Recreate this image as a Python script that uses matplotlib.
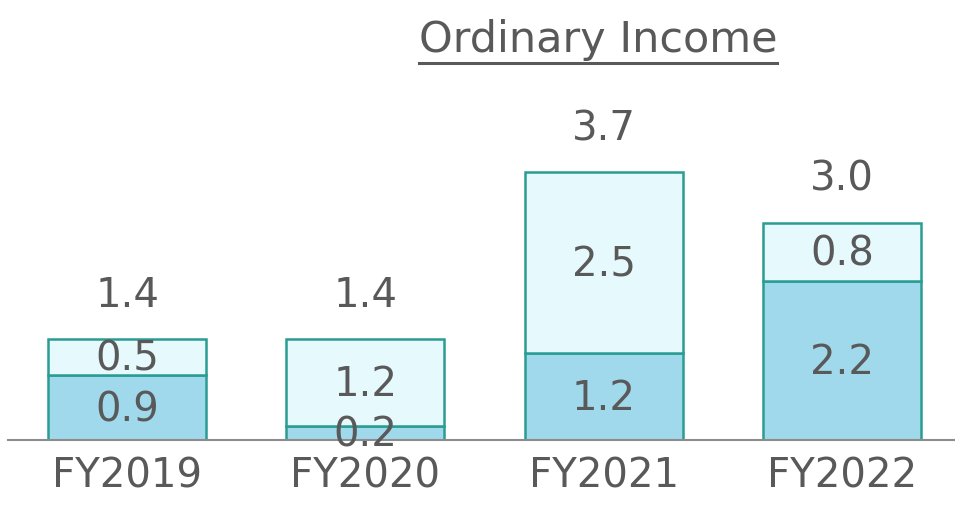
import matplotlib
matplotlib.use("Agg")
import matplotlib.pyplot as plt
import numpy as np

categories = ["FY2019", "FY2020", "FY2021", "FY2022"]
bottom_vals = [0.9, 0.2, 1.2, 2.2]
top_vals = [0.5, 1.2, 2.5, 0.8]
totals = [1.4, 1.4, 3.7, 3.0]
title = "Ordinary Income"

text_color = "#595959"
bottom_color = "#a0d9eb"
top_color = "#e6f9fd"
edge_color = "#2a9d93"

fig = plt.figure(figsize=(9.55, 5.09), dpi=100)
ax = fig.add_axes([8/955, 69/509, 947/955, 440/509])
x = np.arange(len(categories))
w = 0.664
ax.bar(x, bottom_vals, width=w, color=bottom_color, edgecolor=edge_color, linewidth=1.8)
ax.bar(x, top_vals, width=w, bottom=bottom_vals, color=top_color, edgecolor=edge_color, linewidth=1.8)

fs = 29
for i in range(len(categories)):
    ax.annotate(f"{bottom_vals[i]:.1f}", (x[i], bottom_vals[i] / 2), xytext=(0, -2),
                textcoords="offset points", ha="center", va="center", fontsize=fs, color=text_color)
    ax.annotate(f"{top_vals[i]:.1f}", (x[i], bottom_vals[i] + top_vals[i] / 2), xytext=(0, -2),
                textcoords="offset points", ha="center", va="center", fontsize=fs, color=text_color)
    ax.annotate(f"{totals[i]:.1f}", (x[i], bottom_vals[i] + top_vals[i]), xytext=(0, 31),
                textcoords="offset points", ha="center", va="center", fontsize=fs, color=text_color)

ax.set_xlim(-0.5, 3.475)
ax.set_ylim(0, 6.08)
ax.set_xticks(x)
ax.set_xticklabels(categories, fontsize=fs, color=text_color)
ax.tick_params(axis="x", length=0, pad=12)
ax.set_yticks([])
for s in ["top", "right", "left"]:
    ax.spines[s].set_visible(False)
ax.spines["bottom"].set_color("#8c8c8c")
ax.spines["bottom"].set_linewidth(1.5)
ax.patch.set_alpha(0)

t = fig.text(598/955, 1 - 40/509, title, ha="center", va="center", fontsize=31, color=text_color)
fig.canvas.draw()
bb = t.get_window_extent()
fig.add_artist(plt.Line2D([bb.x0/955, bb.x1/955], [(509-63)/509, (509-63)/509], color=text_color, linewidth=2.2))

fig.savefig("out.png", dpi=100)
